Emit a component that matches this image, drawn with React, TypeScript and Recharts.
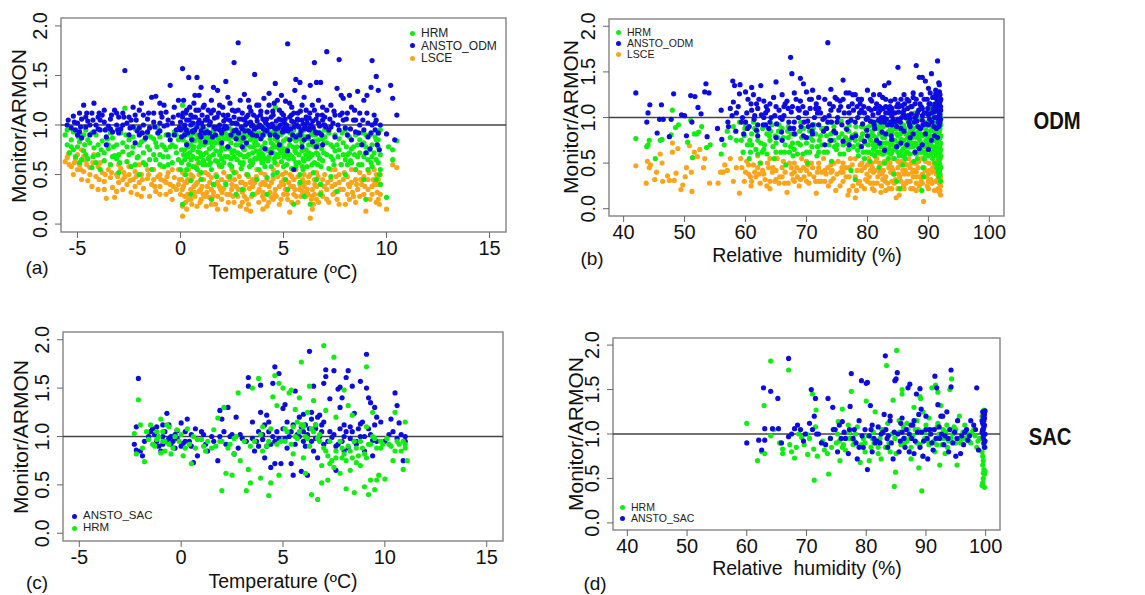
import { ScatterChart, Scatter, XAxis, YAxis, ReferenceLine, ReferenceArea } from "recharts";

type Pt = [number, number];

const tempTicks = [-5, 0, 5, 10, 15];
const rhTicks = [40, 50, 60, 70, 80, 90, 100];
const yTicks = [0, 0.5, 1, 1.5, 2];
const tempDomain: [number, number] = [-5.8, 15.8];
const rhDomain: [number, number] = [37.6, 102.4];
const yDomain: [number, number] = [-0.08, 2.08];

const GREEN = "#10ee10";
const BLUE = "#0c0ce2";
const ORANGE = "#fca51c";

// (a) ODM vs temperature
const aHrm: Pt[] = [
  [-5.6,0.9],[-5.5,0.8],[-5.4,0.72],[-5.3,0.85],[-5.2,0.93],[-5.1,0.68],[-5.0,0.78],[-4.9,0.62],[-4.8,0.88],[-4.7,0.74],[-4.6,0.95],[-4.5,0.66],[-4.4,0.82],[-4.3,0.57],[-4.2,0.77],[-4.1,0.9],[-4.0,0.7],[-3.9,0.55],[-3.8,0.84],[-3.7,0.64],[-3.6,0.96],[-3.5,0.76],[-3.4,0.6],[-3.3,0.87],[-3.2,0.69],[-3.1,0.8],[-3.0,0.52],
  [-2.9,0.92],[-2.8,0.73],[-2.7,1.17],[-2.6,0.63],[-2.5,0.85],[-2.4,0.58],[-2.3,0.78],[-2.2,0.96],[-2.1,0.67],[-2.0,0.5],[-1.9,0.83],[-1.8,0.72],[-1.7,0.6],[-1.6,0.9],[-1.5,0.75],[-1.4,0.55],[-1.3,0.86],[-1.2,0.65],[-1.1,0.97],[-1.0,0.7],[-0.9,0.8],[-0.8,0.58],[-0.7,0.9],[-0.6,0.68],[-0.5,0.78],[-0.4,0.62],[-0.3,0.93],[-0.2,0.72],[-0.1,0.85],
  [0.0,0.55],[0.05,0.75],[0.1,1.2],[0.1,0.2],[0.15,0.88],[0.2,0.65],[0.25,0.5],[0.3,0.82],[0.35,0.95],[0.4,0.6],[0.45,0.72],[0.5,0.44],[0.55,0.86],[0.6,0.68],[0.65,0.78],[0.7,1.0],[0.75,0.57],[0.8,0.9],[0.85,0.73],[0.9,0.62],[0.95,0.84],[1.0,0.52],[1.05,0.97],[1.1,0.7],[1.15,0.8],[1.2,0.6],[1.3,0.88],[1.35,0.66],[1.4,0.76],[1.5,0.25],[1.5,0.55],[1.55,0.92],[1.6,0.7],[1.7,0.82],[1.75,0.48],[1.8,0.63],[1.9,0.95],[1.95,0.74],[2.0,0.58],[2.1,0.86],[2.15,0.68],[2.2,0.4],[2.3,0.78],[2.35,0.97],[2.4,0.6],[2.5,0.72],[2.55,0.88],[2.6,0.52],[2.7,0.8],[2.75,0.65],[2.8,0.92],[2.9,0.7],[2.95,0.56],
  [3.0,0.84],[3.05,0.62],[3.1,0.75],[3.2,0.95],[3.25,0.5],[3.3,0.7],[3.4,0.85],[3.45,0.6],[3.5,0.3],[3.55,0.78],[3.6,0.92],[3.7,0.66],[3.75,0.8],[3.8,0.55],[3.9,0.72],[3.95,0.88],[4.0,0.62],[4.1,1.0],[4.15,0.76],[4.2,0.47],[4.3,0.68],[4.35,0.86],[4.4,0.58],[4.5,0.8],[4.55,0.94],[4.6,1.18],[4.65,0.7],[4.7,0.52],[4.8,0.76],[4.85,0.9],[4.9,0.63],[5.0,0.84],[5.05,0.72],[5.1,0.45],[5.2,0.96],[5.25,0.66],[5.3,0.8],[5.4,0.56],[5.45,0.88],[5.5,0.2],[5.55,0.74],[5.6,0.62],[5.7,0.9],[5.75,0.7],[5.8,0.5],[5.9,0.82],[5.95,0.66],[6.0,0.95],[6.1,0.75],[6.15,0.58],[6.2,0.86],[6.3,0.2],[6.3,0.68],[6.4,0.8],[6.45,0.52],[6.5,0.92],[6.6,0.72],[6.65,0.6],[6.7,0.85],[6.8,0.4],[6.85,0.76],[6.9,0.64],
  [7.0,0.88],[7.1,0.7],[7.2,0.56],[7.3,0.8],[7.4,0.65],[7.5,0.9],[7.6,0.33],[7.7,0.75],[7.8,0.6],[7.9,0.82],[8.0,0.5],[8.1,0.7],[8.2,0.88],[8.3,0.62],[8.4,0.78],[8.5,0.55],[8.6,0.68],[8.7,0.85],[8.8,0.6],[8.9,0.45],[9.0,0.25],[9.0,0.78],[9.1,0.65],[9.2,0.9],[9.3,0.58],[9.4,0.72],[9.5,0.45],[9.5,0.85],[9.6,0.62],[9.65,0.5],[9.7,0.95],[9.7,0.4],[10.0,0.27],[10.1,0.78],[10.3,0.75],[10.3,0.65],[10.5,0.84],
  [0.4,0.9],[1.25,0.95],[2.25,0.9],[3.15,0.88],[4.05,0.9],[4.95,0.92],[5.85,0.93],[6.55,0.9],[0.9,0.78],[1.9,0.7],[2.9,0.8],[3.85,0.74],[4.75,0.68],[5.65,0.78],[6.25,0.72],[0.6,0.58],[1.45,0.62],[2.45,0.66],[3.35,0.58],[4.25,0.64],[5.15,0.6],[5.95,0.55],[6.75,0.66],[-1.5,0.65],[-3.0,0.7],[-4.5,0.85],[-0.8,0.78],[-2.3,0.88],[7.4,0.78],[8.2,0.72],[8.9,0.68],[9.3,0.8],
  [-5.5,0.95],[-5.2,0.75],[-4.9,0.83],[-4.6,0.7],[-4.3,0.92],[-4.0,0.8],[-3.7,0.72],[-3.4,0.92],[-3.1,0.66],[-2.8,0.82],[-2.5,0.7],[-2.2,0.6],[-1.9,0.92],[-1.6,0.78],[-1.3,0.7],[-1.0,0.88],[-0.7,0.75],[-0.4,0.8],[-0.1,0.65],
  [0.1,0.85],[0.2,0.75],[0.35,0.68],[0.5,0.8],[0.65,0.92],[0.8,0.66],[0.95,0.72],[1.1,0.88],[1.25,0.72],[1.4,0.86],[1.55,0.78],[1.7,0.64],[1.85,0.86],[2.0,0.78],[2.15,0.94],[2.3,0.68],[2.45,0.82],[2.6,0.74],[2.75,0.9],[2.9,0.62],[3.05,0.76],[3.2,0.68],[3.35,0.9],[3.5,0.72],[3.65,0.84],[3.8,0.7],[3.95,0.62],[4.1,0.82],[4.25,0.74],[4.4,0.92],[4.55,0.66],[4.7,0.84],[4.85,0.72],[5.0,0.58],[5.15,0.86],[5.3,0.7],[5.45,0.78],[5.6,0.84],[5.75,0.62],[5.9,0.74],[6.05,0.86],[6.2,0.66],[6.35,0.9],[6.5,0.62],[6.65,0.8],[6.8,0.92],[6.95,0.72],[7.1,0.82],[7.3,0.68],[7.5,0.74],[7.7,0.86],[7.9,0.7],[8.1,0.6],[8.3,0.76],[8.5,0.9],[8.7,0.72],[8.9,0.82],[9.1,0.55],[9.3,0.68],[9.5,0.65],[9.6,0.78],[9.7,0.7],
  [0.3,0.55],[1.0,0.45],[1.6,0.4],[2.4,0.48],[3.0,0.35],[3.7,0.45],[4.5,0.5],[5.2,0.35],[5.8,0.42],[6.6,0.45],[6.8,0.3],[7.3,0.48],[0.5,0.3],[2.7,0.3],[4.2,0.3],[6.0,0.28],[-1.0,0.6],[-2.0,0.8],[-3.5,0.8],[-4.8,0.65],
  [0.7,0.85],[1.8,0.88],[2.8,0.85],[3.6,0.82],[4.6,0.86],[5.5,0.95],[6.4,0.94],[7.0,0.95],[8.0,0.95],[9.0,0.9],
];
const aHrmMore: Pt[] = [
  [0.05,0.62],[0.22,0.92],[0.38,0.78],[0.52,0.65],[0.68,0.84],[0.82,0.55],[0.98,0.8],[1.12,0.64],[1.28,0.82],[1.42,0.68],[1.58,0.86],[1.72,0.74],[1.88,0.6],[2.02,0.9],[2.18,0.76],[2.32,0.86],[2.48,0.58],[2.62,0.9],[2.78,0.72],[2.92,0.86],[3.08,0.68],[3.22,0.8],[3.38,0.64],[3.52,0.88],[3.68,0.74],[3.82,0.92],[3.98,0.78],[4.12,0.66],[4.28,0.92],[4.42,0.76],[4.58,0.62],[4.72,0.94],[4.88,0.8],[5.02,0.68],[5.18,0.76],[5.32,0.92],[5.48,0.66],[5.62,0.72],[5.78,0.86],[5.92,0.58],[6.08,0.7],[6.22,0.8],[6.38,0.6],[6.52,0.78],[6.68,0.7],[6.82,0.58],[6.98,0.82],
  [0.15,0.7],[1.0,0.68],[2.0,0.66],[3.0,0.6],[4.0,0.7],[5.0,0.76],[6.0,0.64],[0.5,0.9],[1.5,0.82],[2.5,0.95],[3.5,0.62],[4.5,0.72],[5.5,0.86],[6.5,0.84],
  [-5.3,0.78],[-4.95,0.88],[-4.65,0.8],[-4.25,0.68],[-3.85,0.75],[-3.55,0.86],[-3.25,0.78],[-2.95,0.62],[-2.65,0.9],[-2.35,0.72],[-2.05,0.68],[-1.75,0.85],[-1.45,0.88],[-1.15,0.78],[-0.85,0.68],[-0.55,0.9],[-0.25,0.78],
  [7.2,0.92],[7.45,0.6],[7.65,0.68],[7.85,0.92],[8.05,0.78],[8.25,0.64],[8.45,0.7],[8.65,0.6],[8.85,0.92],[9.05,0.72],[9.25,0.62],[9.45,0.88],[9.6,0.92],[9.7,0.55],
  [0.3,0.7],[0.9,0.88],[1.4,0.6],[1.9,0.82],[2.4,0.76],[2.9,0.9],[3.4,0.78],[3.9,0.66],[4.4,0.82],[4.9,0.76],[5.4,0.68],[5.9,0.9],[6.4,0.7],[6.9,0.86],[0.6,0.75],[1.1,0.6],[1.6,0.95],[2.1,0.62],[2.6,0.68],[3.1,0.9],[3.6,0.66],[4.1,0.58],[4.6,0.78],[5.1,0.7],[5.6,0.58],[6.1,0.88],[6.6,0.78],[-4.7,0.9],[-4.1,0.62],[-3.3,0.68],[-2.6,0.78],[-1.8,0.62],[-1.2,0.82],[-0.6,0.6],[-0.2,0.9],[7.6,0.8],[8.0,0.65],[8.6,0.8],[9.2,0.75],[9.6,0.85],
];
const aOdm: Pt[] = [
  [-5.5,1.0],[-5.3,0.97],[-5.2,1.09],[-5.0,1.02],[-4.9,0.93],[-4.8,1.06],[-4.7,1.2],[-4.6,0.98],[-4.5,1.04],[-4.4,0.9],[-4.3,1.12],[-4.2,1.22],[-4.1,1.0],[-4.0,1.08],[-3.9,0.95],[-3.8,1.1],[-3.7,1.03],[-3.6,0.88],[-3.5,0.99],[-3.4,1.06],[-3.3,0.93],[-3.2,1.15],[-3.1,1.0],[-3.0,1.08],
  [-2.9,0.96],[-2.8,1.12],[-2.7,1.55],[-2.6,1.02],[-2.5,0.9],[-2.4,1.05],[-2.3,0.98],[-2.2,1.1],[-2.1,0.94],[-2.0,1.15],[-1.9,1.22],[-1.8,1.0],[-1.7,0.87],[-1.6,1.06],[-1.5,0.97],[-1.4,1.28],[-1.3,1.03],[-1.2,1.29],[-1.1,0.92],[-1.0,1.22],[-0.9,1.08],[-0.8,0.99],[-0.7,1.13],[-0.6,0.9],[-0.5,1.4],[-0.4,1.02],[-0.3,1.18],[-0.2,0.95],[-0.1,1.1],
  [0.0,1.03],[0.05,0.88],[0.1,1.57],[0.15,1.25],[0.2,0.97],[0.25,1.12],[0.3,1.05],[0.35,0.92],[0.4,1.48],[0.45,1.18],[0.5,1.0],[0.55,0.85],[0.6,1.08],[0.65,1.22],[0.7,0.95],[0.75,1.15],[0.8,1.48],[0.85,1.02],[0.9,1.3],[0.95,0.9],[1.0,1.38],[1.05,1.1],[1.1,0.98],[1.15,1.2],[1.2,1.05],[1.3,0.93],[1.35,1.15],[1.4,1.0],[1.5,1.25],[1.55,0.88],[1.6,1.38],[1.65,1.07],[1.7,0.96],[1.8,1.35],[1.85,1.12],[1.9,1.0],[2.0,0.92],[2.05,1.18],[2.1,1.04],[2.2,1.44],[2.25,0.97],[2.3,1.1],[2.4,1.22],[2.45,0.9],[2.5,1.02],[2.6,1.63],[2.65,1.14],[2.7,0.95],[2.8,1.83],[2.85,1.06],[2.9,1.25],[2.95,0.98],
  [3.0,1.12],[3.05,0.87],[3.1,1.31],[3.15,1.0],[3.2,1.08],[3.3,0.94],[3.35,1.18],[3.4,1.03],[3.5,0.9],[3.55,1.1],[3.6,1.51],[3.65,0.97],[3.7,1.2],[3.8,1.2],[3.85,1.0],[3.9,0.86],[4.0,1.06],[4.05,1.27],[4.1,0.95],[4.2,1.13],[4.25,1.0],[4.3,1.32],[4.35,0.9],[4.4,1.08],[4.5,0.98],[4.55,1.22],[4.6,1.42],[4.65,1.04],[4.7,0.88],[4.8,1.15],[4.85,1.0],[4.9,1.3],[4.95,0.93],[5.0,1.1],[5.05,1.02],[5.1,1.24],[5.2,1.82],[5.25,0.96],[5.3,1.08],[5.4,1.18],[5.45,0.9],[5.5,1.03],[5.55,1.35],[5.6,1.46],[5.65,1.0],[5.7,1.12],[5.8,1.43],[5.85,0.94],[5.9,1.05],[6.0,1.28],[6.05,0.98],[6.1,1.15],[6.2,0.88],[6.25,1.07],[6.3,1.4],[6.35,1.0],[6.4,1.2],[6.5,1.63],[6.55,0.93],[6.6,1.43],[6.65,1.1],[6.7,1.02],[6.8,1.43],[6.85,0.9],[6.9,1.18],[6.95,1.0],
  [7.0,1.08],[7.1,1.74],[7.2,0.95],[7.3,1.2],[7.4,1.02],[7.5,0.88],[7.6,1.37],[7.7,1.66],[7.75,1.1],[7.8,1.3],[7.9,1.27],[8.0,0.97],[8.1,1.12],[8.2,1.3],[8.3,0.85],[8.4,1.05],[8.5,0.93],[8.6,1.34],[8.7,1.0],[8.8,0.8],[8.9,1.25],[9.0,0.72],[9.05,1.3],[9.1,1.02],[9.2,0.76],[9.25,1.38],[9.3,1.65],[9.4,1.1],[9.45,0.95],[9.5,1.49],[9.55,0.8],[9.6,1.35],[9.65,0.75],[9.7,1.0],[10.0,0.91],[10.2,1.4],[10.3,1.27],[10.4,0.85],[10.5,1.1],
  [0.3,0.8],[1.2,0.83],[2.3,0.78],[3.2,0.82],[4.1,0.76],[4.8,0.8],[5.3,0.85],[5.9,0.78],[6.4,0.83],[6.9,0.8],[5.5,0.55],[4.4,0.72],[3.7,0.89],[2.7,0.86],[1.7,0.9],[0.6,0.93],[-0.5,0.85],[-2.2,0.82],[-3.6,0.8],[-4.8,0.87],
  [0.2,1.0],[0.8,0.98],[1.45,1.03],[2.15,0.99],[2.75,1.01],[3.45,0.99],[4.15,1.02],[4.75,0.97],[5.15,1.0],[5.75,0.98],[6.15,1.02],[6.45,0.97],[6.75,0.99],[5.35,0.96],[5.95,1.01],[6.25,0.95],[5.05,0.94],[4.45,1.01],[3.95,0.98],[3.25,1.02],
  [-5.1,0.95],[-4.9,1.12],[-4.6,1.08],[-4.4,1.0],[-4.2,0.93],[-3.9,1.05],[-3.7,1.15],[-3.4,0.96],[-3.1,1.12],[-2.8,1.0],[-2.5,1.08],[-2.3,1.18],[-2.0,0.97],[-1.8,1.1],[-1.6,0.93],[-1.3,1.12],[-1.0,1.02],[-0.8,1.2],[-0.6,1.05],[-0.3,0.9],[-0.1,1.25],
  [0.1,1.08],[0.3,1.15],[0.5,1.1],[0.7,1.3],[0.9,1.05],[1.1,1.18],[1.3,1.08],[1.6,1.15],[1.9,1.2],[2.1,0.96],[2.3,1.28],[2.6,1.08],[2.8,1.15],[3.1,1.05],[3.3,1.25],[3.5,1.0],[3.7,1.08],[3.9,1.14],[4.1,1.04],[4.3,1.2],[4.5,1.1],[4.7,1.25],[4.9,1.05],[5.1,0.98],[5.3,1.22],[5.5,1.12],[5.7,1.05],[5.9,1.2],[6.1,1.08],[6.3,0.98],[6.5,1.15],[6.7,1.25],[6.9,1.05],[7.1,1.15],[7.3,0.98],[7.5,1.1],[7.7,0.95],[7.9,1.05],[8.1,0.9],[8.3,1.18],[8.5,1.05],[8.7,1.12],[8.9,0.95],[9.1,0.88],[9.3,1.0],[9.5,1.05],[9.6,0.92],
  [0.2,0.9],[0.6,1.02],[1.0,0.94],[1.4,0.92],[1.8,0.98],[2.2,1.06],[2.6,0.94],[3.0,0.96],[3.4,0.92],[3.8,0.98],[4.2,0.94],[4.6,0.9],[5.0,0.96],[5.4,1.04],[5.8,0.9],[6.2,0.96],[6.6,0.92],[7.0,1.0],[5.6,0.88],[6.0,0.85],[4.0,0.9],[3.0,0.78],[5.2,0.74],[6.6,0.78],[2.0,0.82],[1.0,0.88],[0.0,0.95],[-1.0,0.94],[-2.0,0.9],[-3.0,0.92],[-4.0,0.96],[-5.0,0.9],
];
const aOdmMore: Pt[] = [
  [0.12,1.12],[0.28,0.95],[0.42,1.05],[0.58,0.94],[0.72,1.08],[0.88,1.15],[1.02,1.02],[1.18,0.92],[1.32,1.05],[1.48,1.12],[1.62,0.98],[1.78,1.08],[1.92,0.95],[2.08,1.1],[2.22,0.98],[2.38,1.05],[2.52,1.15],[2.68,1.02],[2.82,0.92],[2.98,1.06],[3.12,0.94],[3.28,1.1],[3.42,1.14],[3.58,0.96],[3.72,1.04],[3.88,1.1],[4.02,0.96],[4.18,1.06],[4.32,0.98],[4.48,1.14],[4.62,0.96],[4.78,1.06],[4.92,1.12],[5.08,1.06],[5.22,0.94],[5.38,1.1],[5.52,0.98],[5.68,1.06],[5.82,1.14],[5.98,0.96],[6.12,1.06],[6.28,1.12],[6.42,1.04],[6.58,1.06],[6.72,0.92],[6.88,1.1],[7.05,0.98],[7.25,1.06],[7.45,1.14],[7.65,1.0],[7.85,1.12],[8.05,1.06],[8.25,0.96],[8.45,1.15],[8.65,0.92],[8.85,1.05],[9.05,1.12],[9.25,0.92],[9.45,1.02],
  [-5.45,1.05],[-5.15,1.03],[-4.85,0.98],[-4.55,1.12],[-4.25,1.05],[-3.95,1.12],[-3.65,0.95],[-3.35,1.1],[-3.05,0.95],[-2.75,1.08],[-2.45,0.97],[-2.15,1.05],[-1.85,0.92],[-1.55,1.12],[-1.25,0.98],[-0.95,1.12],[-0.65,1.0],[-0.35,1.08],[-0.05,0.98],
];
const aLsce: Pt[] = [
  [-5.6,0.63],[-5.5,0.67],[-5.4,0.72],[-5.3,0.58],[-5.2,0.5],[-5.1,0.66],[-5.0,0.7],[-4.9,0.6],[-4.8,0.75],[-4.7,0.53],[-4.6,0.64],[-4.5,0.44],[-4.4,0.57],[-4.3,0.38],[-4.2,0.7],[-4.1,0.48],[-4.0,0.35],[-3.9,0.62],[-3.8,0.52],[-3.7,0.43],[-3.6,0.26],[-3.5,0.55],[-3.4,0.47],[-3.3,0.37],[-3.2,0.27],[-3.1,0.5],[-3.0,0.42],
  [-2.9,0.56],[-2.8,0.35],[-2.7,0.48],[-2.6,0.4],[-2.5,0.58],[-2.4,0.32],[-2.3,0.45],[-2.2,0.53],[-2.1,0.3],[-2.0,0.42],[-1.9,0.5],[-1.8,0.36],[-1.7,0.6],[-1.6,0.46],[-1.5,0.28],[-1.4,0.4],[-1.3,0.55],[-1.2,0.33],[-1.1,0.48],[-1.0,0.38],[-0.9,0.58],[-0.8,0.44],[-0.7,0.3],[-0.6,0.52],[-0.5,0.4],[-0.4,0.25],[-0.3,0.47],[-0.2,0.35],[-0.1,0.55],
  [0.0,0.3],[0.05,0.45],[0.1,0.08],[0.1,0.18],[0.15,0.38],[0.2,0.5],[0.25,0.22],[0.3,0.42],[0.35,0.3],[0.4,0.55],[0.5,0.35],[0.55,0.2],[0.6,0.48],[0.7,0.28],[0.75,0.4],[0.8,0.6],[0.9,0.33],[0.95,0.22],[1.0,0.45],[1.1,0.3],[1.2,0.52],[1.25,0.18],[1.3,0.38],[1.4,0.27],[1.5,0.47],[1.6,0.32],[1.7,0.2],[1.8,0.42],[1.9,0.58],[2.0,0.25],[2.1,0.36],[2.2,0.15],[2.3,0.48],[2.4,0.3],[2.5,0.4],[2.6,0.22],[2.7,0.52],[2.8,0.35],[2.9,0.18],
  [3.0,0.42],[3.1,0.28],[3.2,0.5],[3.3,0.2],[3.35,0.36],[3.4,0.13],[3.5,0.45],[3.6,0.3],[3.7,0.55],[3.8,0.22],[3.9,0.4],[4.0,0.32],[4.1,0.5],[4.2,0.18],[4.3,0.38],[4.4,0.27],[4.5,0.46],[4.6,0.35],[4.7,0.6],[4.8,0.2],[4.9,0.42],[5.0,0.3],[5.1,0.52],[5.2,0.25],[5.3,0.12],[5.35,0.38],[5.4,0.48],[5.5,0.3],[5.6,0.55],[5.7,0.22],[5.8,0.4],[5.9,0.33],[6.0,0.5],[6.1,0.28],[6.2,0.42],[6.3,0.06],[6.35,0.25],[6.4,0.35],[6.5,0.3],[6.6,0.52],[6.7,0.22],[6.8,0.4],[6.9,0.28],
  [7.0,0.5],[7.1,0.35],[7.2,0.22],[7.3,0.45],[7.4,0.3],[7.5,0.55],[7.6,0.25],[7.7,0.42],[7.8,0.6],[7.9,0.35],[8.0,0.2],[8.1,0.48],[8.2,0.38],[8.3,0.55],[8.4,0.28],[8.5,0.45],[8.6,0.35],[8.7,0.52],[8.8,0.4],[8.9,0.3],[9.0,0.13],[9.1,0.45],[9.2,0.25],[9.3,0.38],[9.4,0.55],[9.5,0.22],[9.55,0.32],[9.6,0.45],[9.65,0.2],[9.7,0.3],[10.0,0.15],[10.3,0.6],[10.5,0.57],
  [0.5,0.5],[1.5,0.35],[2.5,0.55],[3.5,0.38],[4.5,0.25],[5.5,0.45],[6.5,0.45],[1.0,0.25],[2.0,0.45],[3.0,0.32],[4.0,0.42],[5.0,0.4],[6.0,0.38],[-4.8,0.45],[-3.0,0.6],[-2.0,0.6],[-1.0,0.5],[-0.5,0.33],[7.5,0.4],[8.5,0.22],[9.4,0.4],
  [-5.4,0.6],[-5.0,0.55],[-4.7,0.68],[-4.4,0.5],[-4.0,0.58],[-3.7,0.35],[-3.4,0.6],[-3.1,0.33],[-2.8,0.45],[-2.5,0.5],[-2.2,0.38],[-1.9,0.28],[-1.6,0.55],[-1.3,0.45],[-1.0,0.3],[-0.7,0.42],[-0.4,0.55],[-0.1,0.4],
  [0.1,0.52],[0.2,0.28],[0.35,0.45],[0.5,0.25],[0.65,0.38],[0.8,0.18],[0.9,0.5],[1.05,0.38],[1.2,0.28],[1.35,0.5],[1.5,0.2],[1.65,0.4],[1.8,0.28],[1.95,0.35],[2.1,0.52],[2.25,0.3],[2.4,0.45],[2.55,0.28],[2.7,0.38],[2.85,0.48],[3.0,0.22],[3.15,0.4],[3.3,0.48],[3.45,0.28],[3.6,0.42],[3.75,0.32],[3.9,0.52],[4.05,0.25],[4.2,0.45],[4.35,0.32],[4.5,0.55],[4.65,0.28],[4.8,0.38],[4.95,0.5],[5.1,0.35],[5.25,0.42],[5.4,0.22],[5.55,0.35],[5.7,0.48],[5.85,0.28],[6.0,0.42],[6.15,0.35],[6.3,0.5],[6.45,0.2],[6.6,0.38],[6.75,0.3],[6.9,0.45],[7.1,0.25],[7.3,0.55],[7.5,0.32],[7.7,0.5],[7.9,0.45],[8.1,0.3],[8.3,0.42],[8.5,0.55],[8.7,0.28],[8.9,0.48],[9.1,0.35],[9.3,0.3],[9.5,0.5],[9.6,0.25],[9.7,0.4],
  [6.4,0.15],[6.6,0.25],[6.2,0.3],[4.0,0.15],[3.2,0.15],[1.8,0.15],[0.3,0.15],[7.7,0.2],[8.2,0.25],
];
const aLsceMore: Pt[] = [
  [0.08,0.35],[0.22,0.42],[0.38,0.25],[0.52,0.45],[0.68,0.32],[0.82,0.42],[0.98,0.35],[1.12,0.45],[1.28,0.32],[1.42,0.42],[1.58,0.28],[1.72,0.5],[1.88,0.38],[2.02,0.32],[2.18,0.42],[2.32,0.22],[2.48,0.35],[2.62,0.45],[2.78,0.28],[2.92,0.42],[3.08,0.35],[3.22,0.25],[3.38,0.42],[3.52,0.3],[3.68,0.48],[3.82,0.35],[3.98,0.28],[4.12,0.4],[4.28,0.22],[4.42,0.42],[4.58,0.3],[4.72,0.48],[4.88,0.25],[5.02,0.45],[5.18,0.3],[5.32,0.5],[5.48,0.38],[5.62,0.28],[5.78,0.35],[5.92,0.45],[6.08,0.32],[6.22,0.48],[6.38,0.28],[6.52,0.4],[6.68,0.48],[6.82,0.32],[6.98,0.38],
  [-5.45,0.7],[-5.15,0.62],[-4.85,0.55],[-4.55,0.6],[-4.25,0.62],[-3.95,0.45],[-3.65,0.5],[-3.35,0.52],[-3.05,0.48],[-2.75,0.52],[-2.45,0.44],[-2.15,0.48],[-1.85,0.45],[-1.55,0.5],[-1.25,0.38],[-0.95,0.45],[-0.65,0.48],[-0.35,0.38],[-0.05,0.45],
  [7.15,0.42],[7.35,0.38],[7.55,0.48],[7.75,0.35],[7.95,0.52],[8.15,0.4],[8.35,0.32],[8.55,0.4],[8.75,0.45],[8.95,0.38],[9.15,0.52],[9.35,0.45],[9.55,0.4],[9.7,0.5],
];

// (b) ODM vs relative humidity
const bHrm: Pt[] = [
  [42,0.77],[43.8,0.68],[44,0.7],[44.2,0.75],[45.2,0.55],[46,0.75],[46.3,0.76],[47.8,0.81],[48,1.08],[48.5,0.89],[49,0.92],[50.5,0.73],[51,0.97],[51.3,0.56],[51.6,0.82],[52,0.82],[52.3,0.84],[52.8,0.9],[53.6,0.67],[54.2,0.7],[56,0.6],[56.5,0.7],[57,0.85],[57.5,0.78],[58,0.9],[58.5,0.75],[59,0.95],
  [59.3,0.75],[59.6,0.62],[59.9,0.88],[60.3,0.7],[60.6,0.55],[61.0,0.82],[61.3,0.95],[61.7,0.65],[62.0,0.75],[62.4,0.5],[62.8,0.88],[63.1,0.7],[63.5,0.6],[63.9,0.8],[64.3,0.92],[64.7,0.55],[65.0,0.72],[65.4,0.85],[65.8,0.62],[66.2,0.78],[66.6,0.48],[67.0,0.9],[67.4,0.68],[67.8,0.58],[68.2,0.82],[68.6,0.72],[69.0,0.95],[69.4,0.6],[69.8,0.78],[70.2,0.5],
  [70.5,0.85],[70.9,0.68],[71.3,0.92],[71.7,0.58],[72.1,0.75],[72.5,0.88],[72.9,0.62],[73.3,0.8],[73.7,0.7],[74.1,0.52],[74.5,0.9],[74.9,0.65],[75.3,0.78],[75.7,0.96],[76.1,0.6],[76.5,0.72],[76.9,0.85],[77.3,0.42],[77.7,0.68],[78.1,0.9],[78.5,0.58],[78.9,0.76],[79.3,0.62],[79.7,0.88],[80.1,0.7],
  [80.4,0.52],[80.7,0.82],[81.0,0.65],[81.3,0.95],[81.6,0.72],[81.9,0.45],[82.2,0.86],[82.5,0.6],[82.8,0.78],[83.1,0.92],[83.4,0.55],[83.7,0.7],[84.0,0.84],[84.3,0.38],[84.6,0.66],[84.9,0.9],[85.2,0.58],[85.5,0.76],[85.8,0.48],[86.1,0.88],[86.4,0.7],[86.7,0.95],[87.0,0.6],[87.3,0.8],[87.6,0.52],[87.9,0.72],[88.2,0.9],[88.5,0.62],[88.8,0.82],[89.1,0.45],[89.4,0.7],[89.7,0.95],[90.0,0.58],[90.3,0.8],[90.6,0.68],[90.9,0.9],[91.1,0.5],[91.3,0.75],[91.5,1.0],[91.6,0.62],[91.7,0.85],[91.8,0.42],[91.9,0.7],[92.0,0.92],[91.9,0.55],[91.8,1.1],[91.7,0.35],[91.9,1.17],[92.0,0.3],[91.8,0.78],
  [86.0,0.75],[87.0,0.85],[88.0,0.7],[89.0,0.8],[90.0,0.72],[91.0,0.85],[89.5,0.6],[88.5,0.98],[87.5,0.95],[90.5,1.02],[85.0,0.8],[83.0,0.72],[81.0,0.8],[79.0,0.78],[77.0,0.75],[75.0,0.7],[73.0,0.88],[71.0,0.75],[69.0,0.7],[67.0,0.78],[65.0,0.62],[63.0,0.9],[61.0,0.7],[85.3,0.22],[88.9,0.2],[84.8,0.3],[78.0,0.32],[86.5,0.98],[87.8,1.05],[90.2,1.1],[91.4,0.45],[89.2,0.35],
  [59.8,0.8],[60.8,0.62],[61.5,0.88],[62.5,0.72],[63.5,0.82],[64.5,0.68],[65.5,0.92],[66.5,0.7],[67.5,0.82],[68.5,0.6],[69.5,0.88],[70.5,0.62],[71.5,0.82],[72.5,0.7],[73.5,0.95],[74.5,0.75],[75.5,0.6],[76.5,0.88],[77.5,0.8],[78.5,0.7],[79.5,0.55],[80.5,0.75],[81.5,0.88],[82.5,0.78],[83.5,0.85],[84.5,0.75],[85.5,0.92],[86.5,0.62],[87.5,0.72],[88.5,0.8],[89.5,0.88],[90.5,0.62],[91.5,0.72],
  [80.2,0.9],[81.2,0.58],[82.2,0.68],[83.2,0.62],[84.2,0.92],[85.2,0.7],[86.2,0.55],[87.2,0.9],[88.2,0.55],[89.2,0.92],[90.2,0.85],[91.2,0.95],[80.8,0.6],[81.8,0.9],[82.8,0.5],[83.8,0.6],[84.8,0.82],[85.8,0.65],[86.8,0.82],[87.8,0.62],[88.8,0.72],[89.8,0.68],[90.8,0.78],[91.8,0.6],[91.9,0.88],[92.0,0.8],[91.7,0.95],[91.8,0.5],[92.0,0.65],[91.9,1.05],[91.6,0.4],[91.9,0.38],[92.0,0.45],[91.7,0.72],[91.5,0.85],[91.2,0.68],[90.7,0.55],[90.4,0.92],[89.9,0.78],[89.3,0.55],[88.7,0.65],[88.1,0.78],[87.4,0.68],[86.9,0.75],[86.3,0.82],[85.7,0.58],[85.1,0.88],[84.4,0.55],[83.9,0.75],[83.3,0.82],[82.6,0.9],[82.0,0.62],[81.4,0.78],[80.9,0.7],
  [60.0,0.92],[62.0,0.6],[64.0,0.75],[66.0,0.88],[68.0,0.65],[70.0,0.72],[72.0,0.62],[74.0,0.82],[76.0,0.7],[78.0,0.82],[79.8,0.62],
];
const bHrmMore: Pt[] = [
  [80.3,0.78],[80.6,0.95],[81.1,0.72],[81.6,0.62],[82.1,0.92],[82.4,0.72],[82.9,0.66],[83.4,0.95],[83.6,0.65],[84.1,0.7],[84.6,0.88],[85.0,0.62],[85.4,0.82],[85.9,0.92],[86.2,0.68],[86.6,0.78],[87.1,0.72],[87.5,0.88],[87.9,0.82],[88.3,0.68],[88.6,0.88],[89.0,0.62],[89.4,0.82],[89.6,0.75],[90.1,0.92],[90.4,0.7],[90.8,0.62],[91.0,0.75],[91.3,0.58],[91.4,0.92],[91.6,0.82],[91.7,0.55],[91.8,0.95],[91.9,0.62],[92.0,0.72],[91.9,0.48],[91.7,0.65],[92.0,1.0],[91.8,0.68],[91.6,0.75],
  [60.7,0.75],[61.9,0.85],[63.0,0.65],[64.1,0.85],[65.3,0.78],[66.4,0.62],[67.7,0.72],[68.9,0.85],[70.0,0.62],[71.1,0.88],[72.3,0.8],[73.4,0.62],[74.6,0.68],[75.8,0.82],[76.9,0.65],[78.0,0.75],[79.2,0.82],[74.0,0.95],[77.0,0.92],[71.8,0.68],[69.2,0.78],[66.9,0.85],[64.9,0.8],[62.7,0.62],
  [78.4,0.64],[79.0,0.9],[79.6,0.72],[80.2,0.62],[80.8,0.85],[81.4,0.68],[82.0,0.82],[82.6,0.6],[83.2,0.72],[83.8,0.88],[84.4,0.65],[85.0,0.72],[85.6,0.85],[86.2,0.6],[86.8,0.68],[87.4,0.78],[88.0,0.6],[88.6,0.75],[89.2,0.68],[89.8,0.85],[90.4,0.6],[91.0,0.65],[91.5,0.62],[91.8,0.85],[92.0,0.58],[91.9,0.78],[91.7,0.9],[91.3,0.82],[90.6,0.88],[89.6,0.62],[88.4,0.85],[87.0,0.68],[85.4,0.62],[84.0,0.62],[82.4,0.82],[81.0,0.9],[76.4,0.78],[73.8,0.75],[70.6,0.78],[67.2,0.62],
];
const bOdm: Pt[] = [
  [42,1.27],[43.8,0.95],[44,1.05],[44.3,1.14],[45.5,0.83],[45.9,0.98],[46.2,1.14],[46.5,0.98],[47.5,0.79],[48.2,1.26],[47.8,0.98],[49.5,1.03],[50,1.02],[50.3,0.8],[51,1.24],[51.2,0.95],[51.7,1.23],[52.2,1.11],[52.7,1.04],[53.3,1.28],[53.5,1.37],[54,1.27],[53.7,0.79],[55.4,0.88],[56,1.08],[56.1,0.76],[57.5,1.1],[57.9,1.4],[58.2,1.35],[58,1.17],[57.1,0.95],[59,1.26],[59.1,1.36],[59.5,1.0],[60,1.28],[60.4,1.2],[61,1.33],[61.3,1.25],[62,1.1],[62.5,1.35],[63,1.0],[63.3,1.05],[64,1.15],[65,1.39],[66,1.25],[66.5,1.15],[67.4,1.66],[67.6,1.48],[68,1.27],[68.6,1.1],[69,1.43],[69.5,1.37],[70,1.28],[70.5,1.2],[71,1.3],[72,1.22],[73.5,1.82],[74,1.31],[75,1.2],[76,1.41],[76.5,1.27],[77,1.27],[77.6,1.25],[78,1.25],[78.5,1.2],[79,1.2],[80,1.3],[80.7,1.18],[82,1.25],[82.8,1.35],[83,1.2],[83.5,1.38],[84,1.1],[85,1.55],[86,1.25],[87.5,1.27],[88,1.57],[88.5,1.44],[89,1.44],[89.5,1.4],[90,1.32],[90.5,1.48],[91,1.22],[91.5,1.62],[91.7,1.38],[91.8,1.36],[92,1.2],[91.2,1.26],
  [57.2,0.9],[57.8,1.02],[58.4,0.85],[58.8,1.12],[59.3,0.95],[59.7,0.82],[60.2,1.05],[60.6,0.9],[60.9,1.15],[61.4,0.98],[61.8,0.86],[62.2,1.2],[62.6,1.03],[62.9,0.92],[63.4,1.12],[63.8,0.88],[64.2,1.0],[64.6,1.22],[65.1,0.93],[65.5,1.08],[65.9,0.84],[66.3,1.02],[66.8,1.18],[67.1,0.95],[67.5,1.06],[67.9,0.88],[68.3,1.2],[68.7,1.0],[69.1,0.9],[69.4,1.12],[69.8,1.05],[70.2,0.96],[70.6,1.1],[70.9,0.85],
  [71.3,1.0],[71.6,1.15],[72.0,0.92],[72.3,1.05],[72.7,0.98],[73.0,1.2],[73.3,0.88],[73.7,1.02],[74.1,0.95],[74.4,1.12],[74.8,0.83],[75.1,1.0],[75.5,1.18],[75.8,0.92],[76.2,1.05],[76.6,0.87],[76.9,1.12],[77.3,0.97],[77.7,1.08],[78.1,0.8],[78.4,1.0],[78.8,1.15],[79.2,0.93],[79.5,1.05],[79.9,0.86],[80.2,1.1],[80.5,0.96],
  [80.9,1.03],[81.2,0.88],[81.5,1.15],[81.8,0.97],[82.1,1.08],[82.4,0.84],[82.7,1.0],[83.0,1.12],[83.3,0.92],[83.6,1.05],[83.9,0.8],[84.2,0.98],[84.5,1.2],[84.8,0.9],[85.1,1.06],[85.4,0.95],[85.7,1.13],[86.0,0.85],[86.3,1.0],[86.6,1.1],[86.9,0.92],[87.2,1.04],[87.5,0.82],[87.8,1.15],[88.1,0.96],[88.4,1.08],[88.7,0.88],[89.0,1.02],[89.3,1.2],[89.6,0.93],[89.9,1.1],[90.2,0.98],[90.5,1.05],[90.7,1.22],[90.9,0.9],[91.1,1.15],[91.3,1.0],[91.5,1.08],[91.6,0.95],[91.7,1.18],[91.8,1.03],[91.9,1.12],[92.0,0.98],[91.9,1.25],[91.8,0.92],[91.7,1.06],
  [62.0,0.8],[66.0,0.75],[70.0,0.78],[73.0,0.7],[76.0,0.74],[79.0,0.68],[82.0,0.72],[84.0,0.76],[86.5,0.7],[88.5,0.66],[90.5,0.75],[87.0,0.78],[83.0,0.82],[80.0,0.8],[77.5,0.78],[74.5,0.85],[68.0,0.82],[65.0,0.78],[91.0,0.8],[89.5,0.82],
  [84.0,1.02],[85.0,0.98],[86.0,1.03],[87.0,0.99],[88.0,1.02],[89.0,0.97],[90.0,1.03],[91.0,1.0],[85.5,1.2],[87.5,1.22],[88.8,1.25],[90.3,1.27],[91.2,1.3],[86.8,1.18],[83.8,1.18],[82.5,1.22],[81.0,1.25],[79.0,1.2],
  [58.5,1.05],[60.0,0.95],[61.0,1.08],[62.0,0.92],[63.0,1.18],[64.0,0.95],[65.0,1.12],[66.0,0.98],[67.0,1.1],[68.0,0.95],[69.0,1.18],[70.0,1.05],[71.0,0.92],[72.0,1.1],[73.0,1.0],[74.0,1.08],[75.0,0.95],[76.0,1.2],[77.0,1.05],[78.0,0.95],[79.0,1.08],[80.0,1.0],[81.0,0.95],[82.0,1.12],[83.0,1.05],[84.0,0.92],[85.0,1.15],[86.0,1.08],[87.0,0.9],[88.0,1.2],[89.0,1.1],[90.0,0.92],[91.0,1.12],[80.5,1.2],[81.8,1.05],[82.8,0.95],[83.5,1.1],[84.5,1.05],[85.5,0.88],[86.5,1.2],[87.3,1.12],[88.3,0.9],[89.3,1.05],[90.3,1.15],[91.3,0.88],[91.6,1.12],[91.8,1.28],[91.9,0.95],[92.0,1.08],[91.7,0.98],[91.9,1.03],[91.8,1.15],[92.0,1.2],[91.6,1.25],[91.4,1.2],[90.8,1.1],[89.8,1.2],[88.8,1.12],[87.8,1.0],[86.8,0.95],[85.8,1.05],[84.8,1.12],[83.8,0.95],[82.3,1.0],[81.3,1.1],[79.8,0.98],[78.3,1.12],[76.8,0.95],[75.3,1.08],[73.8,1.15],[72.8,0.85],[71.8,1.05],[70.3,0.9],[68.8,1.08],[67.3,0.88],[66.3,1.12],[64.8,1.02],[63.3,0.92],[61.8,1.15],[60.3,0.88],
  [77.0,0.7],[81.5,0.75],[85.5,0.72],[89.0,0.7],[91.5,0.78],[90.0,0.65],[87.8,0.62],[84.8,0.68],[82.8,0.64],[79.5,0.74],[74.0,0.75],[71.0,0.82],[69.5,0.8],
];
const bOdmMore: Pt[] = [
  [80.6,1.08],[81.1,0.92],[81.7,1.12],[82.2,0.95],[82.6,1.1],[83.1,0.98],[83.7,1.12],[84.1,1.05],[84.6,0.95],[85.2,1.12],[85.6,1.0],[86.1,1.15],[86.7,1.02],[87.1,1.12],[87.7,0.95],[88.2,1.05],[88.6,1.15],[89.1,0.92],[89.7,1.05],[90.1,1.15],[90.6,0.95],[91.0,1.06],[91.5,1.18],[91.7,0.9],[91.9,1.18],[92.0,1.12],[91.8,1.0],
  [61.5,1.02],[63.6,1.08],[65.7,1.0],[67.7,1.12],[69.6,0.95],[71.5,1.1],[73.5,0.95],[75.6,1.12],[77.5,1.15],[79.4,1.12],[70.8,1.2],[74.7,1.22],[78.7,1.05],
];
const bLsce: Pt[] = [
  [42,0.47],[43.7,0.28],[43.9,0.52],[44.2,0.45],[44.4,0.48],[45.1,0.32],[45.4,0.4],[46,0.6],[46.3,0.5],[46.4,0.3],[47.2,0.36],[47.5,0.31],[48,0.72],[48,0.62],[48.3,0.31],[48.6,0.39],[48.9,0.66],[49.4,0.21],[49.7,0.26],[50.1,0.35],[50.3,0.45],[50.8,0.69],[51.1,0.4],[51.2,0.19],[51.6,0.62],[52.1,0.57],[52.5,0.65],[53.1,0.45],[53.3,0.55],[54.1,0.28],[55.5,0.28],[55.9,0.4],[56.3,0.4],[56.6,0.48],[57,0.42],[57.5,0.55],[58,0.3],[58.5,0.45],[59,0.17],[59.2,0.55],
  [59.4,0.45],[59.8,0.3],[60.2,0.52],[60.5,0.38],[60.9,0.25],[61.3,0.48],[61.7,0.35],[62.0,0.58],[62.4,0.28],[62.8,0.42],[63.2,0.32],[63.6,0.5],[64.0,0.22],[64.4,0.4],[64.8,0.3],[65.2,0.55],[65.6,0.35],[66.0,0.45],[66.4,0.28],[66.8,0.18],[67.2,0.5],[67.6,0.38],[68.0,0.3],[68.4,0.45],[68.8,0.25],[69.2,0.55],[69.6,0.35],[70.0,0.42],
  [70.4,0.28],[70.8,0.5],[71.2,0.35],[71.6,0.17],[72.0,0.45],[72.4,0.3],[72.8,0.55],[73.2,0.38],[73.6,0.25],[74.0,0.48],[74.4,0.33],[74.8,0.2],[75.2,0.52],[75.6,0.4],[76.0,0.3],[76.4,0.45],[76.8,0.15],[77.2,0.55],[77.6,0.25],[78.0,0.12],[78.3,0.42],[78.7,0.3],[79.1,0.5],[79.5,0.22],[79.9,0.38],
  [80.2,0.55],[80.5,0.28],[80.8,0.45],[81.1,0.2],[81.4,0.52],[81.7,0.35],[82.0,0.6],[82.3,0.25],[82.6,0.42],[82.9,0.3],[83.2,0.5],[83.5,0.22],[83.8,0.4],[84.1,0.55],[84.4,0.28],[84.7,0.12],[85.0,0.45],[85.3,0.35],[85.6,0.52],[85.9,0.25],[86.2,0.42],[86.5,0.3],[86.8,0.55],[87.1,0.22],[87.4,0.4],[87.7,0.5],[88.0,0.28],[88.3,0.45],[88.6,0.35],[88.9,0.55],[89.2,0.08],[89.5,0.42],[89.8,0.25],[90.1,0.5],[90.4,0.32],[90.7,0.45],[91.0,0.2],[91.3,0.38],[91.5,0.52],[91.7,0.3],[91.8,0.18],[91.9,0.45],[92.0,0.25],[91.6,0.22],
  [76.0,0.5],[78.0,0.55],[80.0,0.48],[82.0,0.4],[84.0,0.45],[86.0,0.5],[88.0,0.4],[90.0,0.38],[77.0,0.2],[79.0,0.25],[81.0,0.28],[83.0,0.2],[85.0,0.22],[87.0,0.3],[89.0,0.28],[64.0,0.55],[68.0,0.5],[72.0,0.5],[74.0,0.4],[70.0,0.3],
  [60.0,0.4],[61.0,0.3],[62.0,0.45],[63.0,0.38],[64.0,0.3],[65.0,0.42],[66.0,0.35],[67.0,0.28],[68.0,0.4],[69.0,0.32],[70.0,0.52],[71.0,0.45],[72.0,0.3],[73.0,0.42],[74.0,0.3],[75.0,0.38],[76.0,0.4],[77.0,0.45],[78.0,0.35],[79.0,0.42],[80.0,0.3],[81.0,0.4],[82.0,0.5],[83.0,0.35],[84.0,0.3],[85.0,0.52],[86.0,0.38],[87.0,0.45],[88.0,0.5],[89.0,0.38],[90.0,0.3],[91.0,0.42],
  [80.5,0.42],[81.5,0.55],[82.5,0.32],[83.5,0.45],[84.5,0.38],[85.5,0.3],[86.5,0.48],[87.5,0.35],[88.5,0.25],[89.5,0.52],[90.5,0.4],[91.5,0.32],[91.8,0.4],[92.0,0.35],[91.9,0.55],[91.7,0.48],[91.9,0.2],[92.0,0.15],[91.8,0.28],[76.5,0.35],[77.5,0.48],[78.5,0.28],[79.5,0.45],[75.5,0.25],[74.5,0.5],[73.5,0.45],[72.5,0.4],[71.5,0.3],[70.5,0.38],[69.5,0.45],[68.5,0.35],[67.5,0.45],[66.5,0.4],[65.5,0.28],[64.5,0.45],[63.5,0.25],[62.5,0.5],[61.5,0.4],[60.5,0.48],
  [78.2,0.2],[80.8,0.22],[82.2,0.18],[84.0,0.22],[86.0,0.22],[88.0,0.2],[90.0,0.22],[87.5,0.22],[85.2,0.15],
];
const bLsceMore: Pt[] = [
  [80.3,0.35],[80.7,0.5],[81.2,0.42],[81.6,0.28],[82.1,0.48],[82.4,0.38],[82.8,0.52],[83.3,0.28],[83.7,0.5],[84.2,0.42],[84.6,0.32],[85.1,0.38],[85.4,0.48],[85.8,0.42],[86.3,0.28],[86.7,0.38],[87.2,0.5],[87.6,0.42],[88.1,0.35],[88.4,0.52],[88.8,0.3],[89.3,0.45],[89.7,0.35],[90.2,0.42],[90.6,0.28],[90.9,0.5],[91.2,0.3],[91.4,0.45],[91.6,0.38],[91.9,0.32],[92.0,0.45],[91.7,0.2],
  [60.8,0.35],[62.2,0.38],[63.8,0.45],[65.0,0.32],[66.2,0.52],[67.8,0.32],[69.0,0.42],[70.2,0.48],[71.8,0.4],[73.0,0.3],[74.2,0.42],[75.8,0.45],[77.0,0.35],[78.8,0.48],[79.7,0.32],
];

// (c) SAC vs temperature
const cSac: Pt[] = [
  [-2.1,1.6],[-2.2,1.1],[-2.3,0.92],[-2.2,0.86],[-2.0,0.85],[-1.9,0.8],[-1.5,1.05],[-1.3,1.02],[-1.1,0.9],[-1.0,0.85],[-0.9,1.0],[-0.8,1.05],[-0.7,1.24],[-0.6,1.12],[-0.5,1.0],[-0.4,0.95],[-0.3,0.88],[-0.2,1.06],[0.0,1.14],[0.1,0.93],[0.2,1.05],[0.3,1.18],[0.4,0.95],[0.5,0.9],[0.6,0.73],[0.7,1.08],[0.8,0.8],[1.0,1.05],[1.1,1.02],[1.3,0.85],[1.5,1.0],[1.6,0.95],[1.8,0.75],[1.9,1.27],[2.0,1.18],[2.1,1.05],[2.3,1.3],[2.4,1.0],[2.6,0.82],[2.7,1.2],[2.9,1.02],[3.2,0.95],[3.3,1.52],[3.3,1.61],[3.5,1.15],[3.6,0.85],[3.8,1.05],[3.9,1.53],[3.9,1.25],[4.0,0.97],[4.1,0.78],[4.2,0.9],[4.3,1.15],[4.4,0.68],[4.5,1.0],[4.5,1.55],[4.6,1.72],[4.6,0.72],[4.8,1.65],[4.9,0.72],[5.0,1.29],[5.1,1.33],[5.2,0.88],[5.4,0.72],[5.5,0.6],[5.6,1.47],[5.8,1.0],[5.9,0.64],[6.0,1.23],[6.0,1.05],[6.1,1.12],[6.2,0.6],[6.3,1.88],[6.4,1.18],[6.5,1.52],[6.6,1.08],[6.7,0.78],[6.8,1.22],[6.9,1.12],[7.0,1.55],[7.1,1.62],[7.1,1.69],[7.3,1.39],[7.4,0.99],[7.5,1.68],[7.6,0.65],[7.7,1.49],[7.8,1.51],[7.8,1.3],[7.9,1.4],[8.0,0.85],[8.1,1.61],[8.2,1.68],[8.3,1.1],[8.4,1.52],[8.5,1.24],[8.6,0.95],[8.8,1.57],[8.8,1.13],[9.0,1.0],[9.1,1.85],[9.1,1.5],[9.2,1.4],[9.3,1.35],[9.4,0.8],[9.5,1.3],[9.6,1.2],[9.8,1.15],[10.2,1.02],[10.3,1.18],[10.5,1.45],[10.6,1.32],[10.7,1.14],[10.8,1.02],[10.9,0.75],[11.0,1.0],[11.0,0.95],
  [-1.2,0.95],[-0.9,0.92],[-0.6,0.98],[-1.4,1.08],[-0.3,1.02],[0.0,0.9],[3.7,0.95],[4.0,1.02],[4.3,1.05],[4.6,0.95],[5.0,1.08],[5.3,1.0],[5.6,0.92],[5.9,1.1],[6.2,1.02],[6.4,0.95],[6.6,1.12],[6.8,1.0],[7.0,0.92],[7.3,1.05],[7.6,0.9],[7.8,1.08],[8.0,1.0],[8.2,0.88],[8.4,1.05],[8.6,0.92],[8.8,1.0],[9.0,0.85],[9.2,1.08],[9.4,0.96],[9.5,1.12],[6.1,0.9],[6.5,0.85],[5.5,1.12],[4.8,0.98],[7.9,0.95],[8.3,0.98],[8.9,1.15],[2.2,0.92],[1.9,1.0],[3.0,0.98],[10.0,0.95],[10.4,1.05],
  [-1.8,0.95],[-1.6,1.0],[-1.2,1.1],[-0.9,1.12],[-0.7,0.95],[-0.5,0.92],[-0.2,0.98],[0.2,0.95],[0.5,1.02],[1.2,0.92],[2.5,1.02],[2.8,0.88],[3.5,0.98],[3.8,0.9],[4.1,1.12],[4.4,0.92],[4.7,1.05],[5.1,0.98],[5.4,1.05],[5.7,1.02],[6.0,0.95],[6.3,1.08],[6.6,0.98],[6.9,1.05],[7.2,0.95],[7.5,1.02],[7.7,0.92],[8.1,1.05],[8.5,0.95],[8.7,1.08],[9.3,1.02],[9.6,0.95],[10.6,0.98],[6.4,1.25],[5.8,1.2],[7.0,1.15],[4.2,1.22],[8.0,1.12],[6.7,1.2],[5.2,1.15],
];
const cHrm: Pt[] = [
  [-2.1,1.38],[-2.3,1.03],[-2.0,1.12],[-1.8,0.74],[-2.2,0.82],[-1.6,0.97],[-1.5,1.12],[-1.3,0.9],[-1.2,1.05],[-1.0,1.18],[-0.9,0.95],[-0.8,0.85],[-0.6,1.1],[-0.5,0.82],[-0.3,1.0],[-0.1,0.95],[0.1,0.8],[0.3,1.08],[0.5,0.72],[0.7,0.88],[1.0,0.97],[1.2,0.85],[1.5,0.88],[1.6,1.07],[1.8,1.19],[1.9,0.95],[2.0,0.44],[2.1,1.3],[2.2,0.62],[2.3,0.88],[2.5,0.6],[2.6,0.82],[2.8,1.45],[2.9,0.75],[3.1,0.95],[3.2,0.44],[3.3,0.66],[3.4,0.52],[3.5,1.5],[3.8,1.6],[3.9,0.57],[4.0,1.1],[4.2,0.9],[4.3,0.39],[4.4,0.52],[4.5,1.41],[4.6,1.63],[4.7,1.32],[4.8,1.55],[4.8,0.6],[5.0,1.5],[5.1,0.95],[5.3,1.45],[5.4,1.48],[5.5,0.82],[5.6,1.28],[5.8,1.4],[5.9,1.77],[6.0,0.78],[6.1,0.62],[6.2,1.25],[6.3,1.52],[6.4,0.4],[6.5,1.37],[6.7,0.35],[6.8,0.95],[6.9,0.52],[7.0,1.94],[7.1,1.27],[7.2,0.55],[7.3,0.72],[7.5,1.82],[7.6,1.2],[7.8,0.62],[7.9,0.78],[8.0,1.48],[8.1,0.46],[8.2,1.32],[8.4,1.22],[8.5,0.42],[8.6,0.73],[8.8,0.7],[9.0,0.48],[9.1,1.72],[9.1,1.1],[9.2,0.4],[9.3,0.55],[9.4,1.25],[9.5,0.45],[9.6,0.55],[9.8,0.88],[10.0,0.56],[10.2,0.92],[10.4,0.75],[10.5,1.25],[10.6,0.95],[10.8,0.85],[10.9,0.66],[11.0,1.15],[11.1,0.75],[11.0,0.92],
  [-1.4,0.92],[-1.1,1.0],[-0.8,0.95],[-0.7,1.12],[-0.4,0.88],[-1.0,0.83],[0.0,1.02],[0.4,0.92],[0.8,0.97],[1.3,0.95],[1.7,0.9],[2.4,0.92],[2.7,1.0],[3.6,0.95],[4.0,0.85],[4.4,1.08],[4.9,0.95],[5.2,1.05],[5.5,1.1],[5.7,0.98],[5.9,1.12],[6.1,1.0],[6.3,0.9],[6.5,1.05],[6.7,0.98],[7.0,0.88],[7.2,0.8],[7.4,0.75],[7.6,0.85],[7.8,0.95],[8.0,0.82],[8.2,0.9],[8.4,0.78],[8.6,0.88],[8.8,0.95],[9.0,0.82],[9.2,0.92],[9.4,1.0],[9.6,0.88],[9.8,0.95],[10.3,0.9],[10.7,0.92],[11.0,0.88],[6.9,0.7],[7.5,0.68],[8.3,0.65],[9.7,0.6],
  [-1.9,0.88],[-1.7,1.05],[-1.2,0.97],[-0.9,1.05],[-0.6,0.92],[-0.2,1.07],[0.2,0.88],[0.6,1.0],[1.1,0.9],[2.0,0.95],[2.6,0.98],[3.4,0.9],[3.9,1.02],[4.3,0.95],[4.7,0.92],[5.1,1.08],[5.4,0.92],[5.6,1.0],[5.8,1.05],[6.0,1.12],[6.2,0.98],[6.4,1.08],[6.6,1.12],[6.8,1.02],[7.1,0.85],[7.3,0.95],[7.6,0.78],[7.9,0.88],[8.1,0.75],[8.3,0.85],[8.5,0.95],[8.7,0.8],[8.9,0.88],[9.1,0.78],[9.3,0.92],[9.5,0.98],[9.9,0.92],[10.1,0.98],[10.5,0.85],[10.9,0.95],[6.0,1.1],[5.7,1.15],
];

// (d) SAC vs relative humidity
const dHrm: Pt[] = [
  [60,1.12],[61.8,0.7],[62.5,0.8],[62.9,1.32],[63,0.78],[64,1.82],[64,0.98],[64.5,1.05],[65.5,0.9],[66,0.78],[66,0.83],[67,1.72],[67.2,0.88],[67.5,0.8],[68,0.73],[68.3,0.85],[69.2,0.96],[69.6,0.88],[70.2,0.77],[70.5,0.95],[71.0,1.45],[71.2,0.83],[71.3,0.48],[71.5,1.08],[71.6,1.27],[71.8,0.75],[73,0.82],[73.5,0.78],[73.7,0.55],[74,0.95],[74.5,1.05],[75,0.9],[75.3,1.14],[75.6,0.7],[76,1.28],[76.5,0.82],[77,1.1],[77.5,1.48],[77.8,0.88],[78.5,1.08],[79,0.68],[79.5,0.95],[80,1.37],[80.5,0.7],[81,0.95],[81.5,1.25],[82,0.85],[82.5,0.72],[83,1.05],[83.4,1.77],[83.6,1.12],[84,0.8],[84.5,1.38],[84.7,0.41],[84.9,0.57],[85.1,1.94],[85.5,1.15],[86,1.45],[86,1.5],[86.5,0.95],[87,1.05],[87.5,0.72],[88,1.3],[88.5,0.9],[88.8,0.62],[89,1.42],[89.1,1.4],[89.3,0.36],[89.5,1.25],[90,1.1],[90.5,0.88],[91,1.52],[91.6,1.55],[92,1.47],[92.3,0.65],[92.5,1.32],[93,0.95],[93.5,1.1],[94,1.5],[94.3,1.62],[94.5,1.0],[95,0.9],[95.2,0.65],[95.6,1.2],[96,0.95],[96.5,1.1],[97,1.0],[97.5,0.9],[98,1.05],[98.5,0.85],[99,0.95],
  [99.4,0.42],[99.5,0.45],[99.6,0.56],[99.7,0.6],[99.5,0.65],[99.8,0.55],[99.6,0.7],[99.4,0.8],[99.7,0.88],[99.5,0.95],[99.8,1.0],[99.6,1.1],[99.4,1.2],[99.7,1.27],[99.9,0.58],[99.8,0.4],[99.6,0.5],[99.5,0.75],[99.9,0.85],
  [75.5,0.92],[76.8,0.95],[78.0,0.92],[79.8,0.9],[81.2,1.02],[82.3,0.95],[83.8,0.9],[85.8,0.88],[86.8,0.92],[87.8,0.98],[88.7,1.05],[89.8,0.95],[90.7,1.0],[91.3,0.92],[91.9,1.08],[92.7,0.88],[93.3,1.02],[93.8,0.92],[94.7,1.08],[95.5,0.95],[96.2,1.02],[97.2,0.92],[98.2,0.98],[86.2,1.08],[84.3,1.0],[80.8,0.85],[77.2,1.02],[74.2,0.85],[72.7,0.92],[70.0,1.0],[68.7,1.0],
  [75.2,1.0],[76.2,0.88],[77.4,0.95],[78.2,1.0],[79.2,0.88],[80.3,0.98],[81.3,0.9],[82.6,1.05],[83.2,0.85],[84.8,0.95],[85.6,1.02],[86.4,0.9],[87.4,0.95],[88.2,1.05],[89.0,0.88],[89.7,1.02],[90.3,0.92],[91.0,1.05],[91.8,0.88],[92.2,1.0],[92.9,1.05],[93.6,0.85],[94.2,0.95],[95.0,1.05],[95.8,0.9],[96.6,0.95],[97.7,1.02],[98.7,0.92],[86.8,1.12],[88.5,1.15],[90.5,1.18],[92.0,1.12],[89.5,0.75],[91.5,0.8],[93.2,0.78],[87.5,0.85],[85.0,0.78],[82.0,0.78],[79.8,0.8],[76.0,0.85],
];
const dSac: Pt[] = [
  [60,0.9],[62,0.93],[62.5,0.82],[62.8,1.52],[63,1.06],[63,0.93],[64,1.48],[64.3,1.06],[65.2,1.4],[65.3,1.06],[65.8,0.9],[67,1.85],[67,0.97],[67.5,1.0],[68,1.06],[68.5,1.1],[69,1.05],[69.5,0.92],[70.5,1.12],[70.8,1.5],[71,1.05],[71.3,1.2],[71.5,1.4],[71.7,1.0],[72.5,0.9],[73.2,0.88],[73.6,1.4],[74,0.95],[74.4,1.3],[74.8,1.05],[75.2,0.8],[75.5,1.1],[76,1.14],[76.5,0.95],[77,0.78],[77.3,1.31],[77.5,1.68],[78,1.05],[78.5,0.72],[78.8,1.15],[79.2,1.6],[79.5,0.85],[80,1.57],[80.2,1.58],[80.2,0.6],[80.7,1.32],[81,1.1],[81.5,0.9],[82,1.08],[82.5,1.0],[83,1.22],[83.2,1.88],[83.5,0.95],[84,1.15],[84.5,0.72],[84.8,1.6],[85,1.62],[85.2,1.69],[85.5,0.8],[86,1.02],[86.5,0.85],[87,1.52],[87.3,1.56],[87.5,1.1],[88,0.78],[88.4,1.45],[88.8,1.22],[89,1.51],[89.2,1.28],[89.5,0.75],[90,1.2],[90.3,0.72],[90.8,1.0],[91.5,1.65],[91.8,1.52],[92,1.33],[92.3,0.95],[92.8,1.2],[93,0.88],[93.5,1.25],[94.2,1.72],[94.2,1.53],[94.5,0.9],[95,0.75],[95.3,1.15],[95.8,0.78],[96.3,0.88],[96.8,1.05],[97.5,1.15],[98,1.1],[98.5,1.52],[98.8,0.82],
  [99.5,1.25],[99.6,1.2],[99.7,1.15],[99.8,1.1],[99.5,1.05],[99.9,1.0],[99.6,0.95],[99.7,0.9],[99.8,0.85],[99.9,1.26],[99.4,1.02],[99.7,1.08],[99.6,0.98],[99.8,1.22],
  [76.3,1.02],[77.8,0.95],[79.8,1.05],[80.5,0.98],[81.8,0.92],[82.8,1.02],[83.7,0.98],[84.2,0.9],[85.3,1.0],[86.3,0.95],[87.2,1.0],[88.2,0.92],[89.3,1.02],[90.2,0.95],[91.0,0.9],[91.4,1.05],[92.6,1.0],[93.7,0.95],[94.8,1.02],[96.0,0.98],[97.0,0.93],[72.0,1.0],[69.8,1.0],[74.5,1.05],[87.8,1.1],[85.8,1.12],
  [75.8,0.95],[77.2,1.05],[78.3,0.9],[79.3,0.98],[80.8,1.05],[81.3,0.95],[82.3,0.9],[83.3,1.05],[84.7,1.02],[85.7,0.92],[86.7,1.05],[87.6,0.95],[88.6,1.02],[89.6,0.92],[90.6,1.05],[91.7,0.95],[92.2,1.08],[93.2,0.98],[94.0,1.05],[95.2,0.95],[96.5,1.02],[97.3,0.98],[98.3,1.05],[84.0,1.2],[86.0,1.18],[88.0,1.15],[90.0,1.05],[92.5,1.2],[89.0,0.85],[91.2,0.82],[87.2,0.8],[83.6,0.85],[81.0,0.8],[78.8,0.85],[93.8,0.8],[99.5,1.12],[99.8,1.18],[99.6,1.05],[99.9,0.92],[99.4,1.15],
];

const FONT = "'Liberation Sans', Arial, sans-serif";

interface SeriesDef {
  name: string;
  color: string;
  pts: Pt[];
}

interface PanelProps {
  left: number;
  top: number;
  right: number;
  bottom: number;
  xDomain: [number, number];
  xTicks: number[];
  series: SeriesDef[];
}

const XTick = (p: any) => (
  <text x={p.x} y={p.y} dy="0.71em" textAnchor="middle" fontSize={20} fill="#111" fontFamily={FONT}>
    {p.payload.value}
  </text>
);

const YTick = (p: any) => (
  <text
    x={p.x}
    y={p.y}
    transform={`rotate(-90 ${p.x} ${p.y})`}
    textAnchor="middle"
    fontSize={20}
    fill="#111"
    fontFamily={FONT}
  >
    {p.payload.value.toFixed(1)}
  </text>
);

// series are drawn in the order given (later ones on top)
function Panel({ left, top, right, bottom, xDomain, xTicks, series }: PanelProps) {
  const padL = 60;
  const padT = 10;
  const padR = 20;
  const padB = 50;
  const w = right - left + padL + padR;
  const h = bottom - top + padT + padB;
  return (
    <div style={{ position: "absolute", left: left - padL, top: top - padT }}>
      <ScatterChart width={w} height={h} margin={{ top: padT, right: padR, left: padL - 40, bottom: padB - 30 }}>
        <XAxis
          type="number"
          dataKey="x"
          domain={xDomain}
          ticks={xTicks}
          allowDataOverflow
          height={30}
          axisLine={false}
          tickLine={{ stroke: "#666" }}
          tickSize={6}
          tickMargin={3}
          tick={<XTick />}
        />
        <YAxis
          type="number"
          dataKey="y"
          domain={yDomain}
          ticks={yTicks}
          allowDataOverflow
          width={40}
          axisLine={false}
          tickLine={{ stroke: "#666" }}
          tickSize={6}
          tickMargin={8}
          tick={<YTick />}
        />
        <ReferenceArea
          x1={xDomain[0]}
          x2={xDomain[1]}
          y1={yDomain[0]}
          y2={yDomain[1]}
          fill="none"
          stroke="#8a8a8a"
          strokeWidth={1.5}
        />
        <ReferenceLine y={1} stroke="#444" strokeWidth={1.3} />
        {series.map((s) => (
          <Scatter
            key={s.name}
            name={s.name}
            data={s.pts.map(([x, y]) => ({ x, y }))}
            isAnimationActive={false}
            shape={(p: any) => <circle cx={p.cx} cy={p.cy} r={2.6} fill={s.color} />}
          />
        ))}
      </ScatterChart>
    </div>
  );
}

const Txt = ({ x, y, size, rotate, bold, sx, children }: any) => (
  <div
    style={{
      position: "absolute",
      left: x,
      top: y,
      transform: `translate(-50%, -50%)${rotate ? " rotate(-90deg)" : ""}${sx ? ` scaleX(${sx})` : ""}`,
      fontSize: size,
      fontWeight: bold ? 700 : 400,
      fontFamily: FONT,
      color: "#111",
      whiteSpace: "pre",
      lineHeight: 1,
    }}
  >
    {children}
  </div>
);

const LegendBox = ({ x, y, size, gap, items }: { x: number; y: number; size: number; gap: number; items: SeriesDef[] }) => (
  <div style={{ position: "absolute", left: x, top: y, fontFamily: FONT, fontSize: size, color: "#222", lineHeight: 1 }}>
    {items.map((it, i) => (
      <div key={it.name} style={{ position: "absolute", top: i * gap - size / 2, left: 0, whiteSpace: "nowrap", display: "flex", alignItems: "center" }}>
        <span style={{ display: "inline-block", width: 5, height: 5, borderRadius: 3, background: it.color, marginRight: 6 }} />
        {it.name}
      </div>
    ))}
  </div>
);

export default function App() {
  const aHrmS: SeriesDef = { name: "HRM", color: GREEN, pts: aHrm.concat(aHrmMore) };
  const aOdmS: SeriesDef = { name: "ANSTO_ODM", color: BLUE, pts: aOdm.concat(aOdmMore) };
  const aLsceS: SeriesDef = { name: "LSCE", color: ORANGE, pts: aLsce.concat(aLsceMore) };
  const bHrmS: SeriesDef = { name: "HRM", color: GREEN, pts: bHrm.concat(bHrmMore) };
  const bOdmS: SeriesDef = { name: "ANSTO_ODM", color: BLUE, pts: bOdm.concat(bOdmMore) };
  const bLsceS: SeriesDef = { name: "LSCE", color: ORANGE, pts: bLsce.concat(bLsceMore) };
  const cSeries: SeriesDef[] = [
    { name: "ANSTO_SAC", color: BLUE, pts: cSac },
    { name: "HRM", color: GREEN, pts: cHrm },
  ];
  const dSeries: SeriesDef[] = [
    { name: "HRM", color: GREEN, pts: dHrm },
    { name: "ANSTO_SAC", color: BLUE, pts: dSac },
  ];
  return (
    <div style={{ position: "absolute", left: 0, top: 0, width: 1145, height: 595, background: "#fff", overflow: "hidden" }}>
      <Panel left={61} top={18} right={506} bottom={232} xDomain={tempDomain} xTicks={tempTicks} series={[aLsceS, aHrmS, aOdmS]} />
      <Panel left={609} top={19} right={1004} bottom={216} xDomain={rhDomain} xTicks={rhTicks} series={[bLsceS, bHrmS, bOdmS]} />
      <Panel left={63} top={332} right={503} bottom={541} xDomain={tempDomain} xTicks={tempTicks} series={cSeries} />
      <Panel left={613} top={338} right={1000} bottom={530} xDomain={rhDomain} xTicks={rhTicks} series={dSeries} />

      <LegendBox x={410} y={33} size={12} gap={12.5} items={[aHrmS, aOdmS, aLsceS]} />
      <LegendBox x={616} y={32} size={10.5} gap={11} items={[bHrmS, bOdmS, bLsceS]} />
      <LegendBox x={72} y={516} size={11.5} gap={12} items={cSeries} />
      <LegendBox x={620} y={507} size={10.5} gap={11} items={dSeries} />

      <Txt x={18} y={126} size={21} rotate>Monitor/ARMON</Txt>
      <Txt x={570} y={117} size={21} rotate>Monitor/ARMON</Txt>
      <Txt x={20} y={437} size={21} rotate>Monitor/ARMON</Txt>
      <Txt x={575} y={434} size={21} rotate>Monitor/ARMON</Txt>

      <Txt x={283} y={273} size={19.5}>Temperature (ºC)</Txt>
      <Txt x={807} y={256} size={19.5}>Relative  humidity (%)</Txt>
      <Txt x={283} y={582} size={19.5}>Temperature (ºC)</Txt>
      <Txt x={807} y={569} size={19.5}>Relative  humidity (%)</Txt>

      <Txt x={37} y={267} size={19}>(a)</Txt>
      <Txt x={592} y={258} size={19}>(b)</Txt>
      <Txt x={37} y={582} size={19}>(c)</Txt>
      <Txt x={595} y={583} size={19}>(d)</Txt>

      <Txt x={1057} y={121} size={23} bold sx={0.88}>ODM</Txt>
      <Txt x={1050} y={437} size={23} bold sx={0.88}>SAC</Txt>
    </div>
  );
}
